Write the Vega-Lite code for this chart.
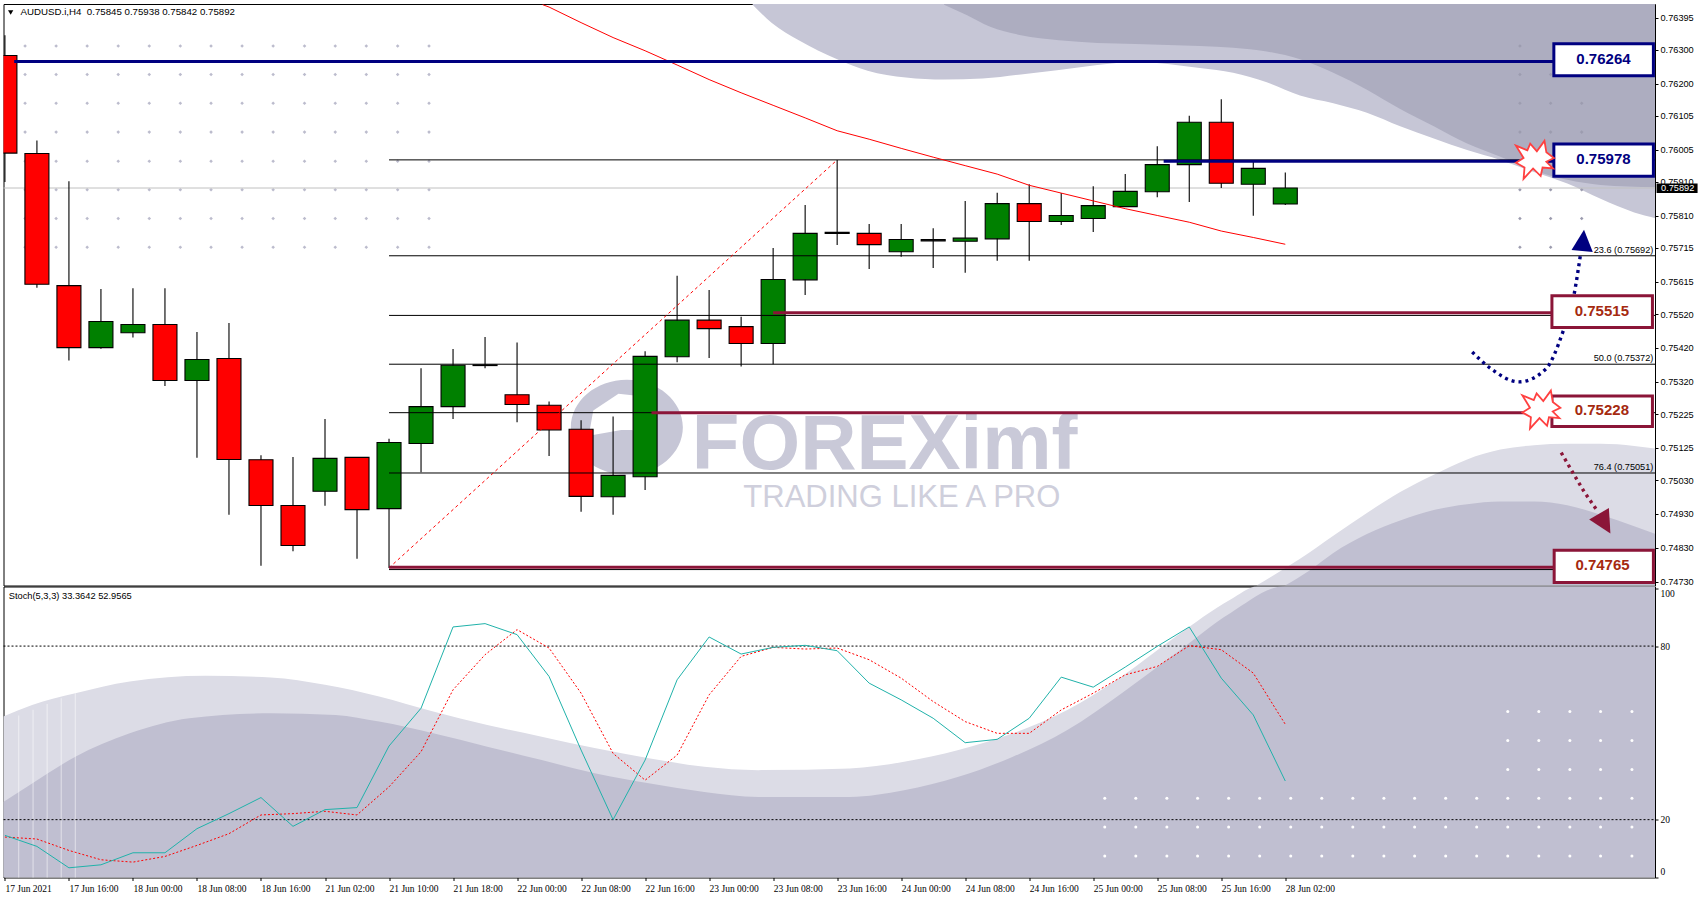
{"$schema":"https://vega.github.io/schema/vega-lite/v6.json","background":"#ffffff","padding":{"left":1.5,"top":3,"right":0,"bottom":0},"spacing":0.5,"bounds":"flush","config":{"view":{"stroke":"#000000","strokeWidth":1},"text":{"font":"Liberation Sans"}},
"datasets":{
"candles":[{"x":0,"h":0.76343,"t":0.76283,"b":0.75995,"l":0.7591,"d":"down"},{"x":1,"h":0.76032,"t":0.75994,"b":0.75608,"l":0.75598,"d":"down"},{"x":2,"h":0.75912,"t":0.75604,"b":0.75421,"l":0.75383,"d":"down"},{"x":3,"h":0.75594,"t":0.75498,"b":0.75421,"l":0.75418,"d":"up"},{"x":4,"h":0.75596,"t":0.75489,"b":0.75465,"l":0.75451,"d":"up"},{"x":5,"h":0.75596,"t":0.75489,"b":0.75324,"l":0.75308,"d":"down"},{"x":6,"h":0.75467,"t":0.75386,"b":0.75324,"l":0.75096,"d":"up"},{"x":7,"h":0.75494,"t":0.75389,"b":0.75091,"l":0.74928,"d":"down"},{"x":8,"h":0.75103,"t":0.7509,"b":0.74955,"l":0.74777,"d":"down"},{"x":9,"h":0.75098,"t":0.74955,"b":0.74837,"l":0.7482,"d":"down"},{"x":10,"h":0.7521,"t":0.75094,"b":0.74997,"l":0.74954,"d":"up"},{"x":11,"h":0.75097,"t":0.75097,"b":0.74943,"l":0.74798,"d":"down"},{"x":12,"h":0.75152,"t":0.75141,"b":0.74946,"l":0.74771,"d":"up"},{"x":13,"h":0.7536,"t":0.75247,"b":0.75138,"l":0.75053,"d":"up"},{"x":14,"h":0.75417,"t":0.75369,"b":0.75247,"l":0.7521,"d":"up"},{"x":15,"h":0.75452,"t":0.7537,"b":0.75368,"l":0.7536,"d":"doji"},{"x":16,"h":0.75436,"t":0.75282,"b":0.75253,"l":0.75201,"d":"down"},{"x":17,"h":0.75262,"t":0.75251,"b":0.75178,"l":0.75101,"d":"down"},{"x":18,"h":0.75207,"t":0.7518,"b":0.74982,"l":0.74937,"d":"down"},{"x":19,"h":0.75218,"t":0.75044,"b":0.74981,"l":0.74928,"d":"up"},{"x":20,"h":0.7541,"t":0.75395,"b":0.7504,"l":0.75001,"d":"up"},{"x":21,"h":0.75633,"t":0.75502,"b":0.75394,"l":0.75378,"d":"up"},{"x":22,"h":0.75591,"t":0.75502,"b":0.75477,"l":0.7539,"d":"down"},{"x":23,"h":0.75512,"t":0.75483,"b":0.75433,"l":0.75365,"d":"down"},{"x":24,"h":0.75715,"t":0.75622,"b":0.75433,"l":0.75372,"d":"up"},{"x":25,"h":0.75842,"t":0.75758,"b":0.75621,"l":0.75576,"d":"up"},{"x":26,"h":0.75975,"t":0.75761,"b":0.75758,"l":0.75724,"d":"doji"},{"x":27,"h":0.75786,"t":0.75758,"b":0.75725,"l":0.75653,"d":"down"},{"x":28,"h":0.75786,"t":0.7574,"b":0.75704,"l":0.75689,"d":"up"},{"x":29,"h":0.75773,"t":0.7574,"b":0.75736,"l":0.75656,"d":"doji"},{"x":30,"h":0.75854,"t":0.75744,"b":0.75735,"l":0.75642,"d":"up"},{"x":31,"h":0.75878,"t":0.75846,"b":0.75742,"l":0.75677,"d":"up"},{"x":32,"h":0.75903,"t":0.75846,"b":0.75793,"l":0.75677,"d":"down"},{"x":33,"h":0.75877,"t":0.75811,"b":0.75793,"l":0.75783,"d":"up"},{"x":34,"h":0.75897,"t":0.7584,"b":0.75802,"l":0.75762,"d":"up"},{"x":35,"h":0.75933,"t":0.75882,"b":0.75837,"l":0.75837,"d":"up"},{"x":36,"h":0.76015,"t":0.75961,"b":0.75881,"l":0.75865,"d":"up"},{"x":37,"h":0.76105,"t":0.76086,"b":0.75961,"l":0.75851,"d":"up"},{"x":38,"h":0.76154,"t":0.76086,"b":0.75906,"l":0.75892,"d":"down"},{"x":39,"h":0.75973,"t":0.7595,"b":0.75903,"l":0.7581,"d":"up"},{"x":40,"h":0.75938,"t":0.75892,"b":0.75845,"l":0.75842,"d":"up"}],
"dotsLeft":[{"x":0.63,"y":0.76311},{"x":1.6,"y":0.76311},{"x":2.57,"y":0.76311},{"x":3.54,"y":0.76311},{"x":4.51,"y":0.76311},{"x":5.48,"y":0.76311},{"x":6.44,"y":0.76311},{"x":7.41,"y":0.76311},{"x":8.38,"y":0.76311},{"x":9.36,"y":0.76311},{"x":10.32,"y":0.76311},{"x":11.29,"y":0.76311},{"x":12.27,"y":0.76311},{"x":13.25,"y":0.76311},{"x":0.63,"y":0.76227},{"x":1.6,"y":0.76227},{"x":2.57,"y":0.76227},{"x":3.54,"y":0.76227},{"x":4.51,"y":0.76227},{"x":5.48,"y":0.76227},{"x":6.44,"y":0.76227},{"x":7.41,"y":0.76227},{"x":8.38,"y":0.76227},{"x":9.36,"y":0.76227},{"x":10.32,"y":0.76227},{"x":11.29,"y":0.76227},{"x":12.27,"y":0.76227},{"x":13.25,"y":0.76227},{"x":0.63,"y":0.76142},{"x":1.6,"y":0.76142},{"x":2.57,"y":0.76142},{"x":3.54,"y":0.76142},{"x":4.51,"y":0.76142},{"x":5.48,"y":0.76142},{"x":6.44,"y":0.76142},{"x":7.41,"y":0.76142},{"x":8.38,"y":0.76142},{"x":9.36,"y":0.76142},{"x":10.32,"y":0.76142},{"x":11.29,"y":0.76142},{"x":12.27,"y":0.76142},{"x":13.25,"y":0.76142},{"x":0.63,"y":0.76057},{"x":1.6,"y":0.76057},{"x":2.57,"y":0.76057},{"x":3.54,"y":0.76057},{"x":4.51,"y":0.76057},{"x":5.48,"y":0.76057},{"x":6.44,"y":0.76057},{"x":7.41,"y":0.76057},{"x":8.38,"y":0.76057},{"x":9.36,"y":0.76057},{"x":10.32,"y":0.76057},{"x":11.29,"y":0.76057},{"x":12.27,"y":0.76057},{"x":13.25,"y":0.76057},{"x":0.63,"y":0.75971},{"x":1.6,"y":0.75971},{"x":2.57,"y":0.75971},{"x":3.54,"y":0.75971},{"x":4.51,"y":0.75971},{"x":5.48,"y":0.75971},{"x":6.44,"y":0.75971},{"x":7.41,"y":0.75971},{"x":8.38,"y":0.75971},{"x":9.36,"y":0.75971},{"x":10.32,"y":0.75971},{"x":11.29,"y":0.75971},{"x":12.27,"y":0.75971},{"x":13.25,"y":0.75971},{"x":0.63,"y":0.75887},{"x":1.6,"y":0.75887},{"x":2.57,"y":0.75887},{"x":3.54,"y":0.75887},{"x":4.51,"y":0.75887},{"x":5.48,"y":0.75887},{"x":6.44,"y":0.75887},{"x":7.41,"y":0.75887},{"x":8.38,"y":0.75887},{"x":9.36,"y":0.75887},{"x":10.32,"y":0.75887},{"x":11.29,"y":0.75887},{"x":12.27,"y":0.75887},{"x":13.25,"y":0.75887},{"x":0.63,"y":0.75802},{"x":1.6,"y":0.75802},{"x":2.57,"y":0.75802},{"x":3.54,"y":0.75802},{"x":4.51,"y":0.75802},{"x":5.48,"y":0.75802},{"x":6.44,"y":0.75802},{"x":7.41,"y":0.75802},{"x":8.38,"y":0.75802},{"x":9.36,"y":0.75802},{"x":10.32,"y":0.75802},{"x":11.29,"y":0.75802},{"x":12.27,"y":0.75802},{"x":13.25,"y":0.75802},{"x":0.63,"y":0.75717},{"x":1.6,"y":0.75717},{"x":2.57,"y":0.75717},{"x":3.54,"y":0.75717},{"x":4.51,"y":0.75717},{"x":5.48,"y":0.75717},{"x":6.44,"y":0.75717},{"x":7.41,"y":0.75717},{"x":8.38,"y":0.75717},{"x":9.36,"y":0.75717},{"x":10.32,"y":0.75717},{"x":11.29,"y":0.75717},{"x":12.27,"y":0.75717},{"x":13.25,"y":0.75717}],
"dotsRight":[{"x":47.33,"y":0.76311},{"x":47.33,"y":0.76227},{"x":48.29,"y":0.76227},{"x":47.33,"y":0.76142},{"x":48.29,"y":0.76142},{"x":49.26,"y":0.76142},{"x":47.33,"y":0.76057},{"x":48.29,"y":0.76057},{"x":49.26,"y":0.76057},{"x":47.33,"y":0.75887},{"x":48.29,"y":0.75887},{"x":49.26,"y":0.75887},{"x":47.33,"y":0.75802},{"x":48.29,"y":0.75802},{"x":49.26,"y":0.75802},{"x":47.33,"y":0.75717},{"x":48.29,"y":0.75717}],
"dotsStoch":[{"x":34.36,"y":27.4},{"x":35.33,"y":27.4},{"x":36.3,"y":27.4},{"x":37.26,"y":27.4},{"x":38.23,"y":27.4},{"x":39.2,"y":27.4},{"x":40.17,"y":27.4},{"x":41.14,"y":27.4},{"x":42.11,"y":27.4},{"x":43.08,"y":27.4},{"x":44.04,"y":27.4},{"x":45.01,"y":27.4},{"x":45.98,"y":27.4},{"x":46.95,"y":27.4},{"x":47.92,"y":27.4},{"x":48.89,"y":27.4},{"x":49.85,"y":27.4},{"x":50.83,"y":27.4},{"x":34.36,"y":17.5},{"x":35.33,"y":17.5},{"x":36.3,"y":17.5},{"x":37.26,"y":17.5},{"x":38.23,"y":17.5},{"x":39.2,"y":17.5},{"x":40.17,"y":17.5},{"x":41.14,"y":17.5},{"x":42.11,"y":17.5},{"x":43.08,"y":17.5},{"x":44.04,"y":17.5},{"x":45.01,"y":17.5},{"x":45.98,"y":17.5},{"x":46.95,"y":17.5},{"x":47.92,"y":17.5},{"x":48.89,"y":17.5},{"x":49.85,"y":17.5},{"x":50.83,"y":17.5},{"x":34.36,"y":7.4},{"x":35.33,"y":7.4},{"x":36.3,"y":7.4},{"x":37.26,"y":7.4},{"x":38.23,"y":7.4},{"x":39.2,"y":7.4},{"x":40.17,"y":7.4},{"x":41.14,"y":7.4},{"x":42.11,"y":7.4},{"x":43.08,"y":7.4},{"x":44.04,"y":7.4},{"x":45.01,"y":7.4},{"x":45.98,"y":7.4},{"x":46.95,"y":7.4},{"x":47.92,"y":7.4},{"x":48.89,"y":7.4},{"x":49.85,"y":7.4},{"x":50.83,"y":7.4},{"x":46.95,"y":57.4},{"x":47.92,"y":57.4},{"x":48.89,"y":57.4},{"x":49.85,"y":57.4},{"x":50.83,"y":57.4},{"x":46.95,"y":47.4},{"x":47.92,"y":47.4},{"x":48.89,"y":47.4},{"x":49.85,"y":47.4},{"x":50.83,"y":47.4},{"x":46.95,"y":37.3},{"x":47.92,"y":37.3},{"x":48.89,"y":37.3},{"x":49.85,"y":37.3},{"x":50.83,"y":37.3}]
},
"vconcat":[
{"width":1651.5,"height":581.5,
"encoding":{"x":{"field":"x","type":"quantitative","title":null,"axis":null,"scale":{"domain":[-0.044,51.55],"nice":false,"zero":false,"padding":0}},"y":{"field":"y","type":"quantitative","title":null,"scale":{"domain":[0.74719,0.76435],"nice":false,"zero":false},"axis":{"orient":"right","values":[0.76395,0.763,0.762,0.76105,0.76005,0.7591,0.7581,0.75715,0.75615,0.7552,0.7542,0.7532,0.75225,0.75125,0.7503,0.7493,0.7483,0.7473],"format":".5f","grid":false,"domain":false,"tickSize":3,"tickColor":"#000000","labelPadding":2,"labelFont":"Liberation Sans","labelFontSize":9.2,"labelColor":"#000000"}}},
"layer":[
{"data":{"values":[{"x":23.36,"y":0.76433},{"x":23.96,"y":0.76379},{"x":24.8,"y":0.76328},{"x":26.0,"y":0.76272},{"x":26.95,"y":0.76238},{"x":28.15,"y":0.76218},{"x":29.34,"y":0.76212},{"x":30.54,"y":0.76215},{"x":31.74,"y":0.76227},{"x":32.93,"y":0.7624},{"x":34.13,"y":0.76255},{"x":35.32,"y":0.76264},{"x":37.33,"y":0.76246},{"x":38.37,"y":0.76232},{"x":39.42,"y":0.76204},{"x":40.46,"y":0.76165},{"x":41.5,"y":0.76142},{"x":42.55,"y":0.76114},{"x":43.59,"y":0.76074},{"x":44.64,"y":0.76038},{"x":45.68,"y":0.76004},{"x":46.72,"y":0.75975},{"x":47.77,"y":0.75939},{"x":48.81,"y":0.75905},{"x":49.85,"y":0.7586},{"x":50.9,"y":0.7582},{"x":51.57,"y":0.75803}]},"mark":{"type":"area","color":"#c6c6d6","clip":true,"interpolate":"monotone"},"encoding":{"y2":{"datum":0.76435}}},
{"data":{"values":[{"x":29.34,"y":0.76433},{"x":30.06,"y":0.76402},{"x":30.78,"y":0.76368},{"x":31.74,"y":0.76343},{"x":32.93,"y":0.76328},{"x":34.13,"y":0.7632},{"x":35.32,"y":0.76317},{"x":37.33,"y":0.76311},{"x":38.37,"y":0.76306},{"x":39.42,"y":0.76295},{"x":40.46,"y":0.76272},{"x":41.5,"y":0.76232},{"x":42.55,"y":0.76182},{"x":43.59,"y":0.76125},{"x":44.64,"y":0.76074},{"x":45.68,"y":0.76023},{"x":46.72,"y":0.75984},{"x":47.77,"y":0.75944},{"x":48.81,"y":0.75916},{"x":49.85,"y":0.75901},{"x":51.57,"y":0.75894}]},"mark":{"type":"area","color":"#adadc0","clip":true,"interpolate":"monotone"},"encoding":{"y2":{"datum":0.76435}}},
{"data":{"values":[{"x":39.1,"y":0.74719},{"x":40.46,"y":0.74798},{"x":41.5,"y":0.74866},{"x":42.55,"y":0.74933},{"x":43.59,"y":0.74995},{"x":44.64,"y":0.75046},{"x":45.68,"y":0.75091},{"x":46.72,"y":0.7512},{"x":47.77,"y":0.75133},{"x":48.81,"y":0.75137},{"x":49.85,"y":0.75137},{"x":50.9,"y":0.75131},{"x":51.57,"y":0.75123}]},"mark":{"type":"area","color":"#dcdce6","clip":true,"interpolate":"monotone"},"encoding":{"y2":{"datum":0.74719}}},
{"data":{"values":[{"x":39.99,"y":0.74719},{"x":40.77,"y":0.74764},{"x":41.5,"y":0.74815},{"x":42.55,"y":0.74871},{"x":43.59,"y":0.74911},{"x":44.64,"y":0.74942},{"x":45.68,"y":0.74959},{"x":46.72,"y":0.74967},{"x":47.77,"y":0.74967},{"x":48.81,"y":0.74956},{"x":49.85,"y":0.74928},{"x":50.9,"y":0.74894},{"x":51.57,"y":0.74871}]},"mark":{"type":"area","color":"#c0bfd1","clip":true,"interpolate":"monotone"},"encoding":{"y2":{"datum":0.74719}}},
{"data":{"name":"dotsLeft"},"mark":{"type":"point","filled":true,"color":"#bcbccd","size":13,"opacity":1,"shape":"diamond"}},
{"data":{"name":"dotsRight"},"mark":{"type":"point","filled":true,"color":"#9c9caf","size":13,"opacity":1,"shape":"diamond"}},
{"data":{"values":[{"x":19.43,"y":0.75186}]},"mark":{"type":"point","filled":true,"opacity":1,"color":"#c6c6d6","size":12544,"shape":"M-1,0A1,0.85 0 1,1 1,0A1,0.85 0 1,1 -1,0ZM-0.68,0.15L-0.1,0.05L0.1,0.05L0.3,0.3L0.3,-0.55L-0.15,-0.6L-0.6,-0.3Z"}},
{"data":{"values":[{"x":21.46,"y":0.75063,"t":"FOREXimf"}]},"mark":{"type":"text","align":"left","baseline":"alphabetic","font":"Liberation Sans","fontWeight":"bold","fontSize":78,"color":"#c9c9d8"},"encoding":{"text":{"field":"t"}}},
{"data":{"values":[{"x":23.07,"y":0.7495,"t":"TRADING LIKE A PRO"}]},"mark":{"type":"text","align":"left","baseline":"alphabetic","font":"Liberation Sans","fontSize":31,"color":"#cfcfdc"},"encoding":{"text":{"field":"t"}}},
{"data":{"values":[{"x":-0.044,"x2":51.55,"y":0.75892}]},"mark":{"type":"rule","color":"#c0c0c0","strokeWidth":1},"encoding":{"x2":{"field":"x2"}}},
{"data":{"name":"candles"},"mark":{"type":"rule","color":"#000000","strokeWidth":1.1,"clip":true},"encoding":{"y":{"field":"h","type":"quantitative"},"y2":{"field":"l"}}},
{"data":{"name":"candles"},"mark":{"type":"bar","size":24,"stroke":"#000000","strokeWidth":1.1,"clip":true,"orient":"vertical"},"encoding":{"y":{"field":"t","type":"quantitative"},"y2":{"field":"b"},"color":{"field":"d","type":"nominal","legend":null,"scale":{"domain":["up","down","doji"],"range":["#008000","#ff0000","#000000"]}}}},
{"data":{"values":[{"x":12,"x2":51.55,"y":0.75975},{"x":12,"x2":51.55,"y":0.75692},{"x":12,"x2":51.55,"y":0.75516},{"x":12,"x2":51.55,"y":0.75372},{"x":12,"x2":51.55,"y":0.75229},{"x":12,"x2":51.55,"y":0.75051},{"x":12,"x2":48.4,"y":0.74766}]},"mark":{"type":"rule","color":"#000000","strokeWidth":1},"encoding":{"x2":{"field":"x2"}}},
{"data":{"values":[{"x":12,"y":0.74771},{"x":26,"y":0.75975}]},"mark":{"type":"line","color":"#ff0000","strokeWidth":1,"strokeDash":[3,3]}},
{"data":{"values":[{"x":16.8,"y":0.76433},{"x":17,"y":0.76426},{"x":18,"y":0.7638},{"x":19,"y":0.76336},{"x":20,"y":0.76297},{"x":21,"y":0.76255},{"x":22,"y":0.76212},{"x":23,"y":0.76173},{"x":24,"y":0.76136},{"x":25,"y":0.76099},{"x":26,"y":0.76061},{"x":27,"y":0.76036},{"x":28,"y":0.76009},{"x":29,"y":0.75983},{"x":30,"y":0.75958},{"x":31,"y":0.75933},{"x":32,"y":0.759},{"x":33,"y":0.75877},{"x":34,"y":0.75854},{"x":35,"y":0.75831},{"x":36,"y":0.75811},{"x":37,"y":0.75791},{"x":38,"y":0.75765},{"x":39,"y":0.75746},{"x":40,"y":0.75726}]},"mark":{"type":"line","color":"#ff0000","strokeWidth":1,"clip":true}},
{"data":{"values":[{"x":0.29,"x2":48.39,"y":0.76265},{"x":36.2,"x2":48.39,"y":0.75971}]},"mark":{"type":"rule","color":"#000080","strokeWidth":3},"encoding":{"x2":{"field":"x2"}}},
{"data":{"values":[{"x":24,"x2":48.33,"y":0.75524},{"x":20.2,"x2":48.33,"y":0.75229},{"x":12,"x2":48.4,"y":0.74773}]},"mark":{"type":"rule","color":"#8b1538","strokeWidth":3},"encoding":{"x2":{"field":"x2"}}},
{"data":{"values":[{"x":51.5,"y":0.75692,"t":"23.6 (0.75692)"},{"x":51.5,"y":0.75372,"t":"50.0 (0.75372)"},{"x":51.5,"y":0.75051,"t":"76.4 (0.75051)"}]},"mark":{"type":"text","align":"right","baseline":"bottom","font":"Liberation Sans","fontSize":9.2,"color":"#000000","dy":-1},"encoding":{"text":{"field":"t"}}},
{"data":{"values":[{"x":45.84,"y":0.75408},{"x":46.41,"y":0.7536},{"x":47.3,"y":0.7532},{"x":48.13,"y":0.75357},{"x":48.66,"y":0.75464},{"x":49.02,"y":0.75577},{"x":49.23,"y":0.75701}]},"mark":{"type":"line","color":"#000080","strokeWidth":3.4,"strokeDash":[3,4],"interpolate":"monotone"}},
{"data":{"values":[{"x":48.62,"y":0.75111},{"x":49.02,"y":0.75046},{"x":49.34,"y":0.74995},{"x":49.75,"y":0.74939}]},"mark":{"type":"line","color":"#8b1538","strokeWidth":3.4,"strokeDash":[3,4]}},
{"data":{"values":[{"x":49.3,"y":0.75734}]},"mark":{"type":"point","filled":true,"opacity":1,"color":"#000080","size":560,"angle":5,"shape":"M0,-1L0.9,0.8L-0.9,0.8Z"}},
{"data":{"values":[{"x":49.96,"y":0.74905}]},"mark":{"type":"point","filled":true,"opacity":1,"color":"#8b1538","size":640,"angle":150,"shape":"M0,-1L0.9,0.8L-0.9,0.8Z"}},
{"data":{"values":[{"x":48.39,"x2":51.5,"y":0.76318,"y2":0.76223},{"x":48.39,"x2":51.5,"y":0.76022,"y2":0.75927}]},"mark":{"type":"rect","fill":"#ffffff","stroke":"#000080","strokeWidth":3},"encoding":{"x2":{"field":"x2"},"y2":{"field":"y2"}}},
{"data":{"values":[{"x":48.33,"x2":51.47,"y":0.75574,"y2":0.7548},{"x":48.33,"x2":51.47,"y":0.75278,"y2":0.75188},{"x":48.4,"x2":51.5,"y":0.74823,"y2":0.74728}]},"mark":{"type":"rect","fill":"#ffffff","stroke":"#8b1538","strokeWidth":3},"encoding":{"x2":{"field":"x2"},"y2":{"field":"y2"}}},
{"data":{"values":[{"x":47.8,"y":0.75975},{"x":48.0,"y":0.75238}]},"mark":{"type":"point","filled":true,"opacity":1,"fill":"#ffffff","stroke":"#ff4040","strokeWidth":1.8,"size":1444,"shape":"M-1,-0.75L-0.4,-0.5L-0.25,-0.85L0.1,-0.45L0.5,-1L0.6,-0.4L1,-0.1L0.6,0.1L0.95,0.45L0.4,0.4L0.3,0.85L-0.1,0.45L-0.6,1L-0.55,0.4L-1,0.15L-0.6,-0.1Z"}},
{"data":{"values":[{"x":49.94,"y":0.76274,"t":"0.76264"},{"x":49.94,"y":0.75979,"t":"0.75978"}]},"mark":{"type":"text","font":"Liberation Sans","fontWeight":"bold","fontSize":15,"color":"#000080","align":"center","baseline":"middle"},"encoding":{"text":{"field":"t"}}},
{"data":{"values":[{"x":49.89,"y":0.7553,"t":"0.75515"},{"x":49.89,"y":0.75238,"t":"0.75228"},{"x":49.91,"y":0.7478,"t":"0.74765"}]},"mark":{"type":"text","font":"Liberation Sans","fontWeight":"bold","fontSize":15,"color":"#a52a10","align":"center","baseline":"middle"},"encoding":{"text":{"field":"t"}}},
{"data":{"values":[{"x":51.6,"x2":52.88,"y":0.75905,"y2":0.75877}]},"mark":{"type":"rect","fill":"#000000"},"encoding":{"x2":{"field":"x2"},"y2":{"field":"y2"}}},
{"data":{"values":[{"x":51.74,"y":0.75892,"t":"0.75892"}]},"mark":{"type":"text","font":"Liberation Sans","fontSize":9.2,"color":"#ffffff","align":"left","baseline":"middle"},"encoding":{"text":{"field":"t"}}},
{"data":{"values":[{"x":0.18,"y":0.7641}]},"mark":{"type":"point","filled":true,"opacity":1,"color":"#000000","size":28,"shape":"triangle-down"}},
{"data":{"values":[{"x":0.49,"y":0.7641,"t":"AUDUSD.i,H4\u00a0\u00a00.75845 0.75938 0.75842 0.75892"}]},"mark":{"type":"text","font":"Liberation Sans","fontSize":9.7,"color":"#000000","align":"left","baseline":"middle"},"encoding":{"text":{"field":"t"}}}
]},
{"width":1651.5,"height":291,
"encoding":{"x":{"field":"x","type":"quantitative","title":null,"scale":{"domain":[-0.044,51.55],"nice":false,"zero":false},"axis":{"values":[0,2,4,6,8,10,12,14,16,18,20,22,24,26,28,30,32,34,36,38,40],"grid":false,"domain":false,"tickSize":3,"tickColor":"#000000","labelAlign":"left","labelBaseline":"top","labelPadding":3,"labelFont":"Liberation Sans Narrow","labelFontSize":9.5,"labelColor":"#000000","labelOverlap":false,"labelFlush":false,"labelExpr":"['17 Jun 2021','17 Jun 16:00','18 Jun 00:00','18 Jun 08:00','18 Jun 16:00','21 Jun 02:00','21 Jun 10:00','21 Jun 18:00','22 Jun 00:00','22 Jun 08:00','22 Jun 16:00','23 Jun 00:00','23 Jun 08:00','23 Jun 16:00','24 Jun 00:00','24 Jun 08:00','24 Jun 16:00','25 Jun 00:00','25 Jun 08:00','25 Jun 16:00','28 Jun 02:00'][datum.value/2]"}},"y":{"field":"y","type":"quantitative","title":null,"scale":{"domain":[0,100.6],"nice":false,"zero":false},"axis":{"orient":"right","values":[0,20,80,100],"grid":false,"domain":false,"tickSize":3,"tickColor":"#000000","labelPadding":2,"labelFont":"Liberation Sans Narrow","labelFontSize":9.5,"labelColor":"#000000","labelOffset":{"condition":[{"test":"datum.value==100","value":5},{"test":"datum.value==0","value":-6}],"value":0}}}},
"layer":[
{"data":{"values":[{"x":-0.05,"y":55.62},{"x":0.85,"y":59.67},{"x":2.2,"y":63.72},{"x":3.9,"y":67.77},{"x":6.27,"y":69.73},{"x":8.3,"y":69.15},{"x":10.0,"y":66.61},{"x":11.69,"y":62.56},{"x":13.38,"y":57.36},{"x":15.07,"y":52.73},{"x":16.77,"y":48.68},{"x":18.46,"y":44.64},{"x":20.16,"y":41.17},{"x":21.85,"y":38.28},{"x":23.54,"y":37.12},{"x":26.39,"y":37.7},{"x":28.09,"y":40.01},{"x":29.79,"y":44.06},{"x":31.49,"y":49.84},{"x":33.19,"y":57.94},{"x":34.89,"y":69.5},{"x":36.59,"y":83.38},{"x":38.29,"y":96.1},{"x":39.14,"y":100.7},{"x":51.57,"y":100.7}]},"mark":{"type":"area","color":"#dcdce6","clip":true,"interpolate":"monotone"},"encoding":{"y2":{"datum":0}}},
{"data":{"values":[{"x":-0.05,"y":26.13},{"x":0.85,"y":32.49},{"x":2.2,"y":41.75},{"x":3.9,"y":49.84},{"x":5.76,"y":55.05},{"x":8.3,"y":56.78},{"x":10.33,"y":56.2},{"x":11.69,"y":53.89},{"x":13.38,"y":49.84},{"x":15.07,"y":45.22},{"x":16.77,"y":40.59},{"x":18.46,"y":35.96},{"x":20.16,"y":32.49},{"x":21.85,"y":29.6},{"x":23.54,"y":27.87},{"x":26.39,"y":27.87},{"x":28.09,"y":30.18},{"x":29.79,"y":34.81},{"x":31.49,"y":41.75},{"x":33.19,"y":50.99},{"x":34.89,"y":63.72},{"x":36.59,"y":77.6},{"x":38.29,"y":91.48},{"x":39.99,"y":100.7},{"x":51.57,"y":100.7}]},"mark":{"type":"area","color":"#c0bfd1","clip":true,"interpolate":"monotone"},"encoding":{"y2":{"datum":0}}},
{"data":{"values":[{"x":0.43,"y":56,"y2":0},{"x":0.88,"y":58,"y2":0},{"x":1.32,"y":60,"y2":0},{"x":1.76,"y":62,"y2":0},{"x":2.2,"y":63.7,"y2":0}]},"mark":{"type":"rule","color":"#ffffff","opacity":0.45,"strokeWidth":1.2},"encoding":{"y2":{"field":"y2"}}},
{"data":{"name":"dotsStoch"},"mark":{"type":"point","filled":true,"color":"#ffffff","size":9,"opacity":1}},
{"data":{"values":[{"x":-0.044,"x2":51.55,"y":80},{"x":-0.044,"x2":51.55,"y":20}]},"mark":{"type":"rule","color":"#000000","strokeWidth":1,"strokeDash":[2,2]},"encoding":{"x2":{"field":"x2"}}},
{"data":{"values":[{"x":0,"y":13.99},{"x":1,"y":13.3},{"x":2,"y":9.36},{"x":3,"y":6.13},{"x":4,"y":5.32},{"x":5,"y":7.28},{"x":6,"y":11.1},{"x":7,"y":15.15},{"x":8,"y":21.62},{"x":9,"y":22.08},{"x":10,"y":22.89},{"x":11,"y":21.62},{"x":12,"y":31.34},{"x":13,"y":43.48},{"x":14,"y":64.88},{"x":15,"y":77.02},{"x":16,"y":85.69},{"x":17,"y":79.33},{"x":18,"y":63.72},{"x":19,"y":42.9},{"x":20,"y":33.65},{"x":21,"y":42.32},{"x":22,"y":63.14},{"x":23,"y":76.44},{"x":24,"y":79.56},{"x":25,"y":78.98},{"x":26,"y":79.33},{"x":27,"y":75.28},{"x":28,"y":68.92},{"x":29,"y":60.83},{"x":30,"y":53.89},{"x":31,"y":49.84},{"x":32,"y":49.84},{"x":33,"y":57.94},{"x":34,"y":63.72},{"x":35,"y":70.08},{"x":36,"y":72.97},{"x":37,"y":80.14},{"x":38,"y":78.75},{"x":39,"y":70.66},{"x":40,"y":52.96}]},"mark":{"type":"line","color":"#ff0000","strokeWidth":1,"strokeDash":[2,2]}},
{"data":{"values":[{"x":0,"y":14.57},{"x":1,"y":10.75},{"x":2,"y":3.35},{"x":3,"y":4.39},{"x":4,"y":8.55},{"x":5,"y":8.55},{"x":6,"y":16.88},{"x":7,"y":22.08},{"x":8,"y":27.64},{"x":9,"y":17.69},{"x":10,"y":23.47},{"x":11,"y":24.17},{"x":12,"y":45.45},{"x":13,"y":58.51},{"x":14,"y":86.62},{"x":15,"y":87.77},{"x":16,"y":83.96},{"x":17,"y":69.5},{"x":18,"y":44.06},{"x":19,"y":20},{"x":20,"y":40.59},{"x":21,"y":68.34},{"x":22,"y":83.15},{"x":23,"y":77.25},{"x":24,"y":79.56},{"x":25,"y":80.26},{"x":26,"y":78.41},{"x":27,"y":67.19},{"x":28,"y":61.41},{"x":29,"y":55.05},{"x":30,"y":46.6},{"x":31,"y":47.76},{"x":32,"y":55.05},{"x":33,"y":69.27},{"x":34,"y":65.8},{"x":35,"y":72.74},{"x":36,"y":79.91},{"x":37,"y":86.62},{"x":38,"y":68.92},{"x":39,"y":56.2},{"x":40,"y":33.36}]},"mark":{"type":"line","color":"#20b2aa","strokeWidth":1}},
{"data":{"values":[{"x":0.12,"y":97.3,"t":"Stoch(5,3,3) 33.3642 52.9565"}]},"mark":{"type":"text","font":"Liberation Sans","fontSize":9.3,"color":"#000000","align":"left","baseline":"middle"},"encoding":{"text":{"field":"t"}}}
]}
]}
